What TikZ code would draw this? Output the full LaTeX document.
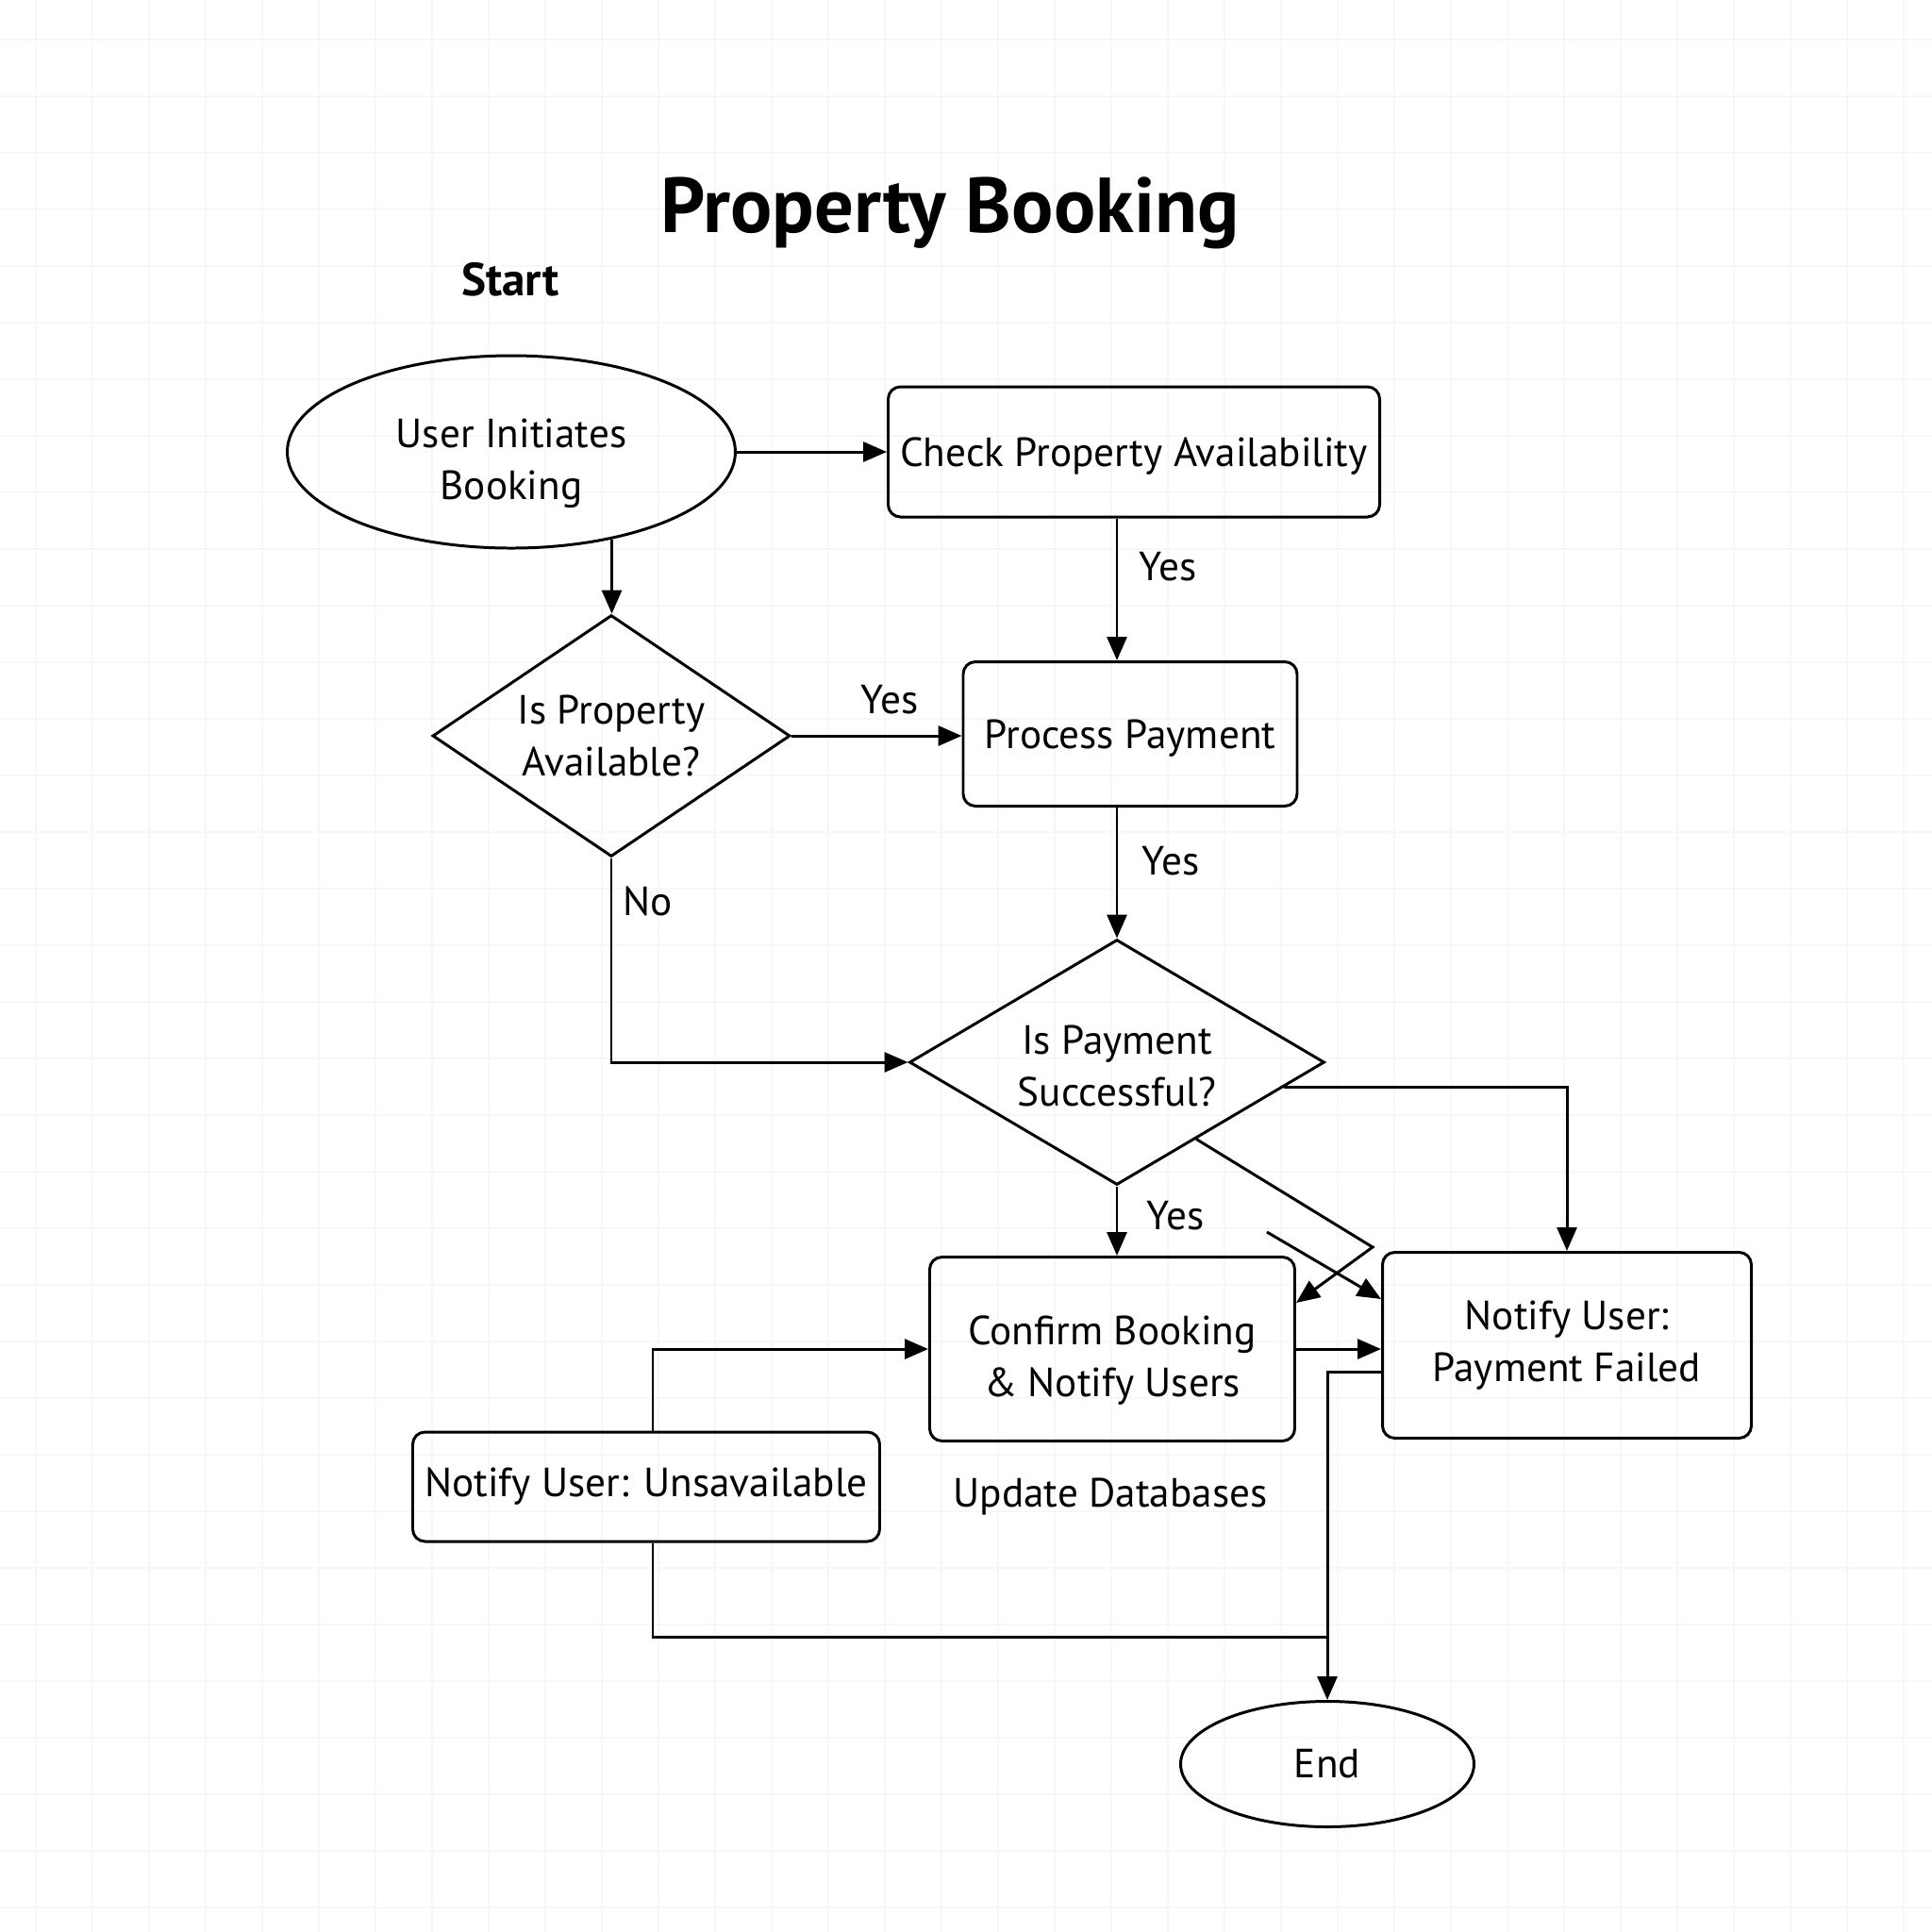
\documentclass[tikz,border=0pt]{standalone}
\usepackage{fontspec}
\setmainfont{PT Sans}
\usepackage{tikz}
\usetikzlibrary{shapes,arrows.meta,calc}
\tikzset{ell/.style={ellipse,draw,line width=0.85pt,inner sep=0pt,align=center,font=\fontsize{12.3}{15.6}\selectfont}}
\tikzset{proc/.style={rectangle,rounded corners=1.3mm,draw,line width=0.85pt,inner sep=0pt,align=center,font=\fontsize{12.3}{15.6}\selectfont}}
\tikzset{dia/.style={diamond,draw,line width=0.85pt,inner sep=0pt,align=center,font=\fontsize{12.3}{15.6}\selectfont}}
\tikzset{lab/.style={inner sep=0pt,font=\fontsize{12.3}{15.6}\selectfont}}
\tikzset{gridline/.style={draw=black!3,line width=0.4pt}}

\begin{document}
\begin{tikzpicture}[>={Triangle[length=2.5mm,width=2.1mm]},x=1cm,y=-1cm,line width=0.85pt]
    \useasboundingbox (0,0) rectangle (20.48,20.48);
    \foreach \g in {0,...,33} {
        \draw [gridline] (0.38+0.6*\g,0) -- (0.38+0.6*\g,20.48);
        \draw [gridline] (0,0.42+0.6*\g) -- (20.48,0.42+0.6*\g);
    }

    \node[lab,anchor=base,font=\fontsize{23.5}{28}\selectfont\bfseries] (title)at (10.07,2.46) {Property Booking};
    \node[lab,anchor=base,font=\fontsize{14}{17}\selectfont\bfseries] (startlab)at (5.41,3.13) {Start};

    \node[ell,minimum width=4.75cm,minimum height=2.04cm] (start)at (5.42,4.79) {\rule{0pt}{5.5mm}User Initiates\\Booking};
    \node[proc,minimum width=5.21cm,minimum height=1.38cm] (check)at (12.02,4.79) {\rule{0pt}{3.9mm}Check Property Availability};
    \node[dia,minimum width=3.79cm,minimum height=2.56cm,aspect=1.48] (dpa)at (6.48,7.80) {Is Property\\Available?};
    \node[proc,minimum width=3.54cm,minimum height=1.53cm] (pay)at (11.98,7.78) {\rule{0pt}{3.9mm}Process Payment};
    \node[dia,minimum width=4.40cm,minimum height=2.60cm,aspect=1.7] (dps)at (11.84,11.26) {\rule{0pt}{3.9mm}Is Payment\\Successful?};
    \node[proc,minimum width=3.87cm,minimum height=1.95cm] (conf)at (11.79,14.30) {\rule{0pt}{5.5mm}Confirm Booking\\\& Notify Users};
    \node[proc,minimum width=3.91cm,minimum height=1.97cm] (fail)at (16.61,14.26) {Notify User:\\Payment Failed};
    \node[proc,minimum width=4.95cm,minimum height=1.16cm] (unav)at (6.85,15.76) {Notify User: Unsavailable};
    \node[lab,anchor=base] (upd)at (11.77,15.97) {Update Databases};
    \node[ell,minimum width=3.11cm,minimum height=1.33cm] (end)at (14.07,18.70) {End};

    \node[lab] (yes1)at (9.43,7.42) {Yes};
    \node[lab] (yes2)at (12.38,6.01) {Yes};
    \node[lab] (yes3)at (12.41,9.13) {Yes};
    \node[lab] (yes4)at (12.46,12.89) {Yes};
    \node[lab] (no1)at (6.87,9.55) {No};

    \coordinate (bend) at (14.55,13.22);
    \coordinate (stray) at (13.43,13.06);
    \coordinate (join) at (14.07,17.35);

    \draw [->] (start) to [] (check);
    \draw [->] (start.-41) to [] (start.-41 |- dpa.north);
    \draw [->] (dpa.east) to [] (dpa.east -| pay.west);
    \draw [->] (check.south -| dps.north) to [] (pay.north -| dps.north);
    \draw [->] (pay.south -| dps.north) to [] (dps.north);
    \draw [->] (dpa.south) |- (dps.west);
    \draw [->] ($(dps.east)!0.2!(dps.south)$) -| (fail.north);
    \draw [->] (dps.south) to [] (dps.south |- conf.north);
    \draw [->] ($(dps.east)!0.62!(dps.south)$) -- (bend) -- ($(conf.north east)+(0,0.5)$);
    \draw [->] (stray) to [] ($(fail.north west)+(0,0.51)$);
    \draw [->] (conf.east) to [] (conf.east -| fail.west);
    \draw [->] ($(fail.west)+(0,0.28)$) -| (end.north);
    \draw [->] ($(unav.north)+(0.07,0)$) |- (conf.west);
    \draw [] ($(unav.south)+(0.07,0)$) |- (join);
\end{tikzpicture}
\end{document}
